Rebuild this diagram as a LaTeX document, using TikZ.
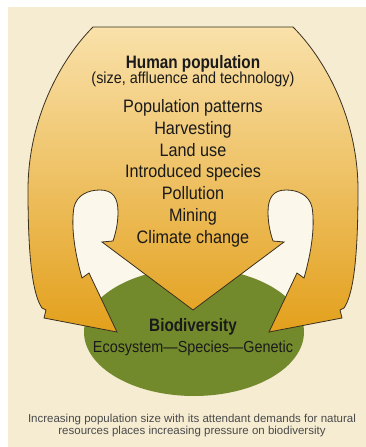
\documentclass[tikz,border=0pt]{standalone}
\usepackage{fontspec}
\setmainfont{Liberation Sans}
\newfontfamily\condf[FakeStretch=0.9]{Liberation Sans}
\newfontfamily\condbf[FakeStretch=0.85]{Liberation Sans}
\definecolor{paper}{HTML}{F5ECD2}
\definecolor{holewhite}{HTML}{FBF7EA}
\definecolor{olive}{HTML}{738A2C}
\definecolor{goldtop}{HTML}{F9E1AA}
\definecolor{goldmid}{HTML}{EFBE5A}
\definecolor{goldbot}{HTML}{E3A01C}
\definecolor{edge}{HTML}{3A3020}
\definecolor{ink}{HTML}{1A1A1A}
\definecolor{capink}{HTML}{4A4A4A}
\begin{document}
\begin{tikzpicture}[x=1pt,y=-1pt,
  listtext/.style={anchor=base,text=ink,font=\condf\fontsize{18}{22}\selectfont,inner sep=0pt},
  headtext/.style={anchor=base,text=ink,font=\condbf\bfseries\fontsize{18}{22}\selectfont,inner sep=0pt},
  subtext/.style={anchor=base,text=ink,font=\condf\fontsize{16}{19}\selectfont,inner sep=0pt},
  captext/.style={anchor=base,text=capink,font=\fontsize{11.5}{13}\selectfont,inner sep=0pt}]
\useasboundingbox (0,0) rectangle (366,447);
\fill[white] (0,0) rectangle (366,447);
\fill[paper] (8,7) rectangle (366,447);
% white holes between the arrows
\fill[holewhite] (117,332) -- (89,273) -- (82,278)
  .. controls (74,250) and (71,225) .. (74,207)
  .. controls (77,195) and (88,190) .. (100,190)
  .. controls (113,190) and (118,198) .. (118,212)
  .. controls (118,225) and (115,235) .. (113,241)
  -- (102,242) -- (193,310) -- (284,242) -- (273,241)
  .. controls (271,235) and (268,225) .. (268,212)
  .. controls (268,198) and (273,190) .. (286,190)
  .. controls (298,190) and (309,195) .. (312,207)
  .. controls (315,225) and (312,250) .. (304,278)
  -- (297,273) -- (269,332) -- cycle;
% biodiversity ellipse
\fill[olive] (194,332) ellipse [x radius=110, y radius=64];
% big human-population shape with three arrows
\path[draw=edge,line width=0.8pt,line join=miter,
      top color=goldtop,middle color=goldmid,bottom color=goldbot]
  (93,27) -- (293,27)
  .. controls (326,60) and (358,120) .. (358,190)
  .. controls (358,260) and (353,295) .. (344,308)
  -- (340,310) -- (342,318)
  -- (269,332)
  -- (297,273)
  -- (304,278)
  .. controls (312,250) and (315,225) .. (312,207)
  .. controls (309,195) and (298,190) .. (286,190)
  .. controls (273,190) and (268,198) .. (268,212)
  .. controls (268,225) and (271,235) .. (273,241)
  -- (284,242)
  -- (193,310)
  -- (102,242)
  -- (113,241)
  .. controls (115,235) and (118,225) .. (118,212)
  .. controls (118,198) and (113,190) .. (100,190)
  .. controls (88,190) and (77,195) .. (74,207)
  .. controls (71,225) and (74,250) .. (82,278)
  -- (89,273)
  -- (117,332)
  -- (44,318) -- (46,310) -- (42,308)
  .. controls (33,295) and (28,260) .. (28,190)
  .. controls (28,120) and (60,60) .. (93,27) -- cycle;
% texts
\node[headtext] (hp) at (193,68) {Human population};
\node[subtext] (sat) at (193,83) {(size, affluence and technology)};
\node[listtext] (l1) at (193,112) {Population patterns};
\node[listtext] (l2) at (193,134) {Harvesting};
\node[listtext] (l3) at (193,156) {Land use};
\node[listtext] (l4) at (193,177.5) {Introduced species};
\node[listtext] (l5) at (193,199.5) {Pollution};
\node[listtext] (l6) at (193,221.5) {Mining};
\node[listtext] (l7) at (193,243.5) {Climate change};
\node[headtext] (bd) at (193,331) {Biodiversity};
\node[subtext] (esg) at (193,352) {Ecosystem—Species—Genetic};
\node[captext] (c1) at (192,422) {Increasing population size with its attendant demands for natural};
\node[captext] (c2) at (192,434) {resources places increasing pressure on biodiversity};
\end{tikzpicture}
\end{document}
